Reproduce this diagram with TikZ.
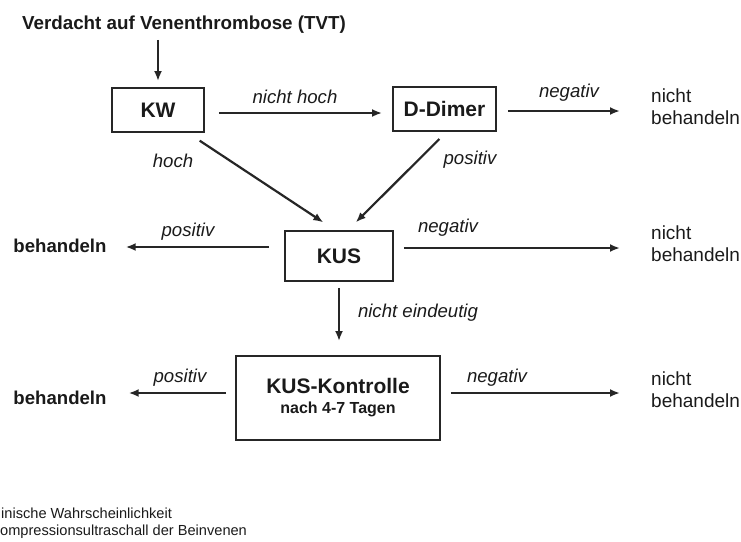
\documentclass[tikz,border=0pt]{standalone}
\usepackage{fontspec}
\setmainfont{Liberation Sans}
\usetikzlibrary{arrows.meta, positioning, calc}
\definecolor{mydark}{RGB}{26,26,26}
\definecolor{myline}{RGB}{38,38,38}
\newcommand{\pxfont}[2]{\fontsize{#1}{#2}\selectfont}
\tikzset{
  box/.style={rectangle, draw=myline, line width=1.9pt, inner sep=0pt,
    font=\bfseries\pxfont{21}{24}, text=mydark, align=center},
  lbl/.style={inner sep=0pt, font=\itshape\pxfont{18.6}{22}, text=mydark},
  treat/.style={inner sep=0pt, font=\bfseries\pxfont{18.6}{22}, text=mydark},
  notreat/.style={inner sep=0pt, anchor=west, align=left,
    font=\pxfont{19}{22}, text=mydark},
  foot/.style={inner sep=0pt, anchor=west, font=\pxfont{14.6}{17}, text=mydark},
  arrow/.style={-{Latex[length=10pt, width=8pt]}, line width=2.2pt, color=myline}
}
\begin{document}
\begin{tikzpicture}[x=1pt, y=-1pt]
  \useasboundingbox (0,0) rectangle (741,541);

  % Start
  \node[inner sep=0pt, font=\bfseries\pxfont{18.8}{22}, text=mydark] (tvt) at (184,25) {Verdacht auf Venenthrombose (TVT)};

  % Boxes
  \node[box, minimum width=92pt, minimum height=44pt] (kw) at (158,110) {KW};
  \node[box, minimum width=103pt, minimum height=44pt] (dd) at (444.5,109) {D-Dimer};
  \node[box, minimum width=108pt, minimum height=50pt] (kus) at (339,256) {KUS};
  \node[box, minimum width=204pt, minimum height=84pt, font=\bfseries\pxfont{21}{20}] (kk) at (338,398) {KUS-Kontrolle\\{\pxfont{16}{20}nach 4-7 Tagen}};

  % Outcomes
  \node[notreat] (nb1) at (651,107) {nicht\\behandeln};
  \node[notreat] (nb2) at (651,244) {nicht\\behandeln};
  \node[notreat] (nb3) at (651,390) {nicht\\behandeln};
  \node[treat] (bh1) at (60,246) {behandeln};
  \node[treat] (bh2) at (60,398) {behandeln};

  % Arrows, top row
  \draw[arrow, shorten <=6pt, shorten >=6pt] (kw |- tvt.south) -- (kw.north);
  \draw[arrow, shorten <=14pt, shorten >=10pt] ($(kw.east)+(0,3)$) -- ($(kw.east -| dd.west)+(0,3)$);
  \draw[arrow, shorten <=11pt, shorten >=31pt] ($(dd.east)+(0,2)$) -- ($(dd.east -| nb1.west)+(0,2)$);
  \node[lbl] (nhoch) at (295,97) {nicht hoch};
  \node[lbl] (neg1) at (569,93) {negativ};

  % Arrows into KUS
  \draw[arrow, shorten <=14pt, shorten >=14pt] ($(kw.south)+(30,0)$) -- ($(kus.north)+(-4,0)$);
  \draw[arrow, shorten <=10pt, shorten >=11pt] ($(dd.south)+(2,0)$) -- ($(kus.north)+(9,0)$);
  \node[lbl] (hoch) at (173,161) {hoch};
  \node[lbl] (pos1) at (470,160) {positiv};

  % KUS row
  \draw[arrow, shorten <=15pt, shorten >=19pt] ($(kus.west)+(0,-9)$) -- ($(kus.west -| bh1.east)+(0,-9)$);
  \draw[arrow, shorten <=10pt, shorten >=31pt] ($(kus.east)+(0,-8)$) -- ($(kus.east -| nb2.west)+(0,-8)$);
  \draw[arrow, shorten <=6pt, shorten >=14pt] (kus.south) -- (kus.south |- kk.north);
  \node[lbl] (pos2) at (188,232) {positiv};
  \node[lbl] (neg2) at (448,228) {negativ};
  \node[lbl] (unklar) at (418,313) {nicht eindeutig};

  % KUS-Kontrolle row
  \draw[arrow, shorten <=9pt, shorten >=22pt] ($(kk.west)+(0,-5)$) -- ($(kk.west -| bh2.east)+(0,-5)$);
  \draw[arrow, shorten <=10pt, shorten >=31pt] ($(kk.east)+(0,-5)$) -- ($(kk.east -| nb3.west)+(0,-5)$);
  \node[lbl] (pos3) at (180,378) {positiv};
  \node[lbl] (neg3) at (497,378) {negativ};

  % Footnote
  \node[foot] (fn1) at (1,513) {inische Wahrscheinlichkeit};
  \node[foot] (fn2) at (0,532) {ompressionsultraschall der Beinvenen};
\end{tikzpicture}
\end{document}
